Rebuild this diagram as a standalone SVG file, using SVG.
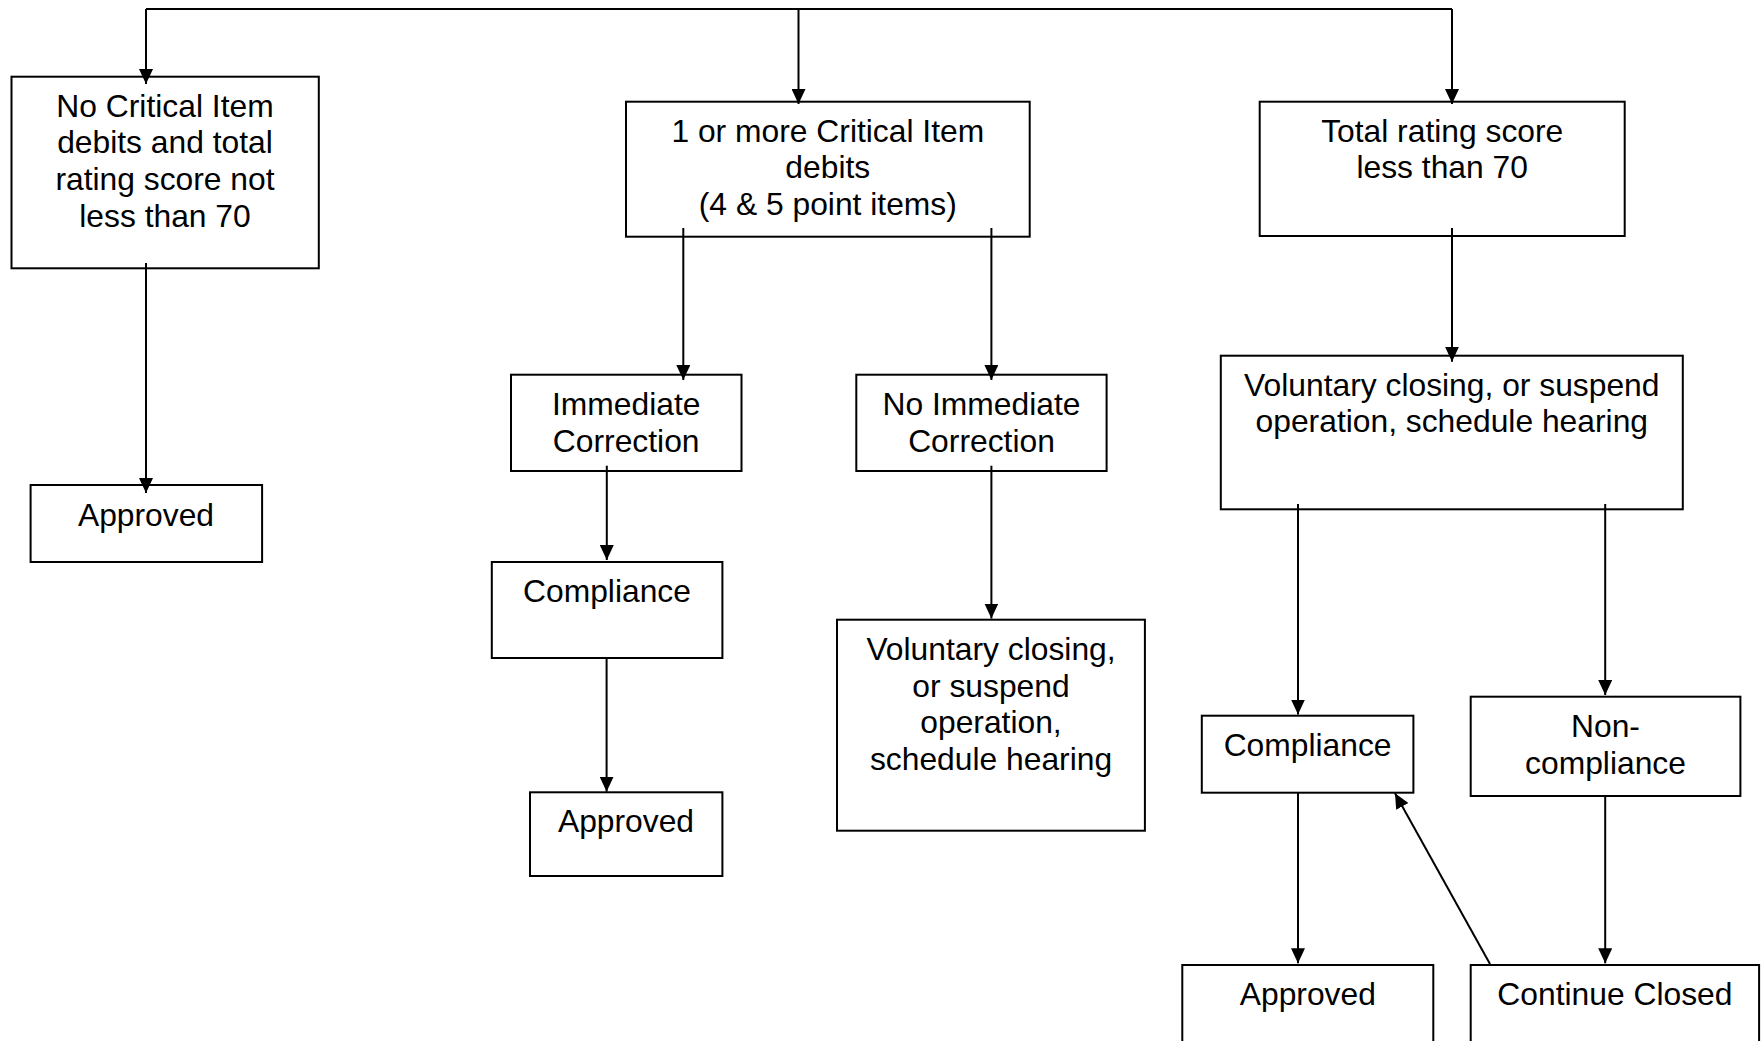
<svg xmlns="http://www.w3.org/2000/svg" width="1761" height="1041" viewBox="0 0 1761 1041">
<style>
.box{fill:#fff;stroke:#000;stroke-width:2}
.t{font-family:"Liberation Sans",Arial,sans-serif;font-size:31.8px;fill:#000;text-anchor:middle}
.c{fill:none;stroke:#000;stroke-width:2}
</style>
<defs>
<marker id="ah" viewBox="0 0 15 14" refX="15" refY="7" markerWidth="15" markerHeight="14" markerUnits="userSpaceOnUse" orient="auto">
<path d="M0,0 L15,7 L0,14 Z" fill="#000"/>
</marker>
</defs>
<rect width="1761" height="1041" fill="#fff"/>
<g id="n1"><rect class="box" x="11.5" y="76.7" width="307.3" height="191.6"/>
<text class="t" x="165" y="116.7">No Critical Item</text><text class="t" x="165" y="153.3">debits and total</text><text class="t" x="165" y="190">rating score not</text><text class="t" x="165" y="226.7">less than 70</text></g>
<g id="n2"><rect class="box" x="626" y="101.7" width="403.7" height="135"/>
<text class="t" x="827.8" y="141.7">1 or more Critical Item</text><text class="t" x="827.8" y="178.3">debits</text><text class="t" x="827.8" y="215">(4 &amp; 5 point items)</text></g>
<g id="n3"><rect class="box" x="1259.7" y="101.7" width="365" height="134.3"/>
<text class="t" x="1442.2" y="141.7">Total rating score</text><text class="t" x="1442.2" y="178.3">less than 70</text></g>
<g id="n4"><rect class="box" x="30.6" y="485" width="231.5" height="77"/>
<text class="t" x="146" y="526">Approved</text></g>
<g id="n5"><rect class="box" x="511" y="374.7" width="230.5" height="96.3"/>
<text class="t" x="626.2" y="415">Immediate</text><text class="t" x="626.2" y="451.7">Correction</text></g>
<g id="n6"><rect class="box" x="856.3" y="374.7" width="250.3" height="96.3"/>
<text class="t" x="981.5" y="415">No Immediate</text><text class="t" x="981.5" y="451.7">Correction</text></g>
<g id="n7"><rect class="box" x="491.8" y="562" width="230.6" height="96"/>
<text class="t" x="607" y="602">Compliance</text></g>
<g id="n8"><rect class="box" x="530" y="792.3" width="192.4" height="83.7"/>
<text class="t" x="626" y="832">Approved</text></g>
<g id="n9"><rect class="box" x="837" y="619.7" width="307.9" height="211"/>
<text class="t" x="991" y="660">Voluntary closing,</text><text class="t" x="991" y="696.7">or suspend</text><text class="t" x="991" y="733.3">operation,</text><text class="t" x="991" y="770">schedule hearing</text></g>
<g id="n10"><rect class="box" x="1220.8" y="355.7" width="462" height="153.6"/>
<text class="t" x="1451.8" y="395.7">Voluntary closing, or suspend</text><text class="t" x="1451.8" y="432.3">operation, schedule hearing</text></g>
<g id="n11"><rect class="box" x="1201.8" y="715.7" width="211.6" height="77"/>
<text class="t" x="1307.6" y="756">Compliance</text></g>
<g id="n12"><rect class="box" x="1470.7" y="696.7" width="269.7" height="99.3"/>
<text class="t" x="1605.5" y="737">Non-</text><text class="t" x="1605.5" y="774">compliance</text></g>
<g id="n13"><rect class="box" x="1182.3" y="965" width="251" height="100"/>
<text class="t" x="1307.8" y="1005">Approved</text></g>
<g id="n14"><rect class="box" x="1470.7" y="965" width="288.4" height="100"/>
<text class="t" x="1614.9" y="1005">Continue Closed</text></g>
<g id="connectors">
<path class="c" d="M146,9 H1452"/>
<path class="c" d="M146,9 V84" marker-end="url(#ah)"/>
<path class="c" d="M798.5,9 V104" marker-end="url(#ah)"/>
<path class="c" d="M1452,9 V104" marker-end="url(#ah)"/>
<path class="c" d="M146,263 V493" marker-end="url(#ah)"/>
<path class="c" d="M683.3,228 V380" marker-end="url(#ah)"/>
<path class="c" d="M991.4,228 V380" marker-end="url(#ah)"/>
<path class="c" d="M606.8,465.7 V560" marker-end="url(#ah)"/>
<path class="c" d="M606.6,658 V791.7" marker-end="url(#ah)"/>
<path class="c" d="M991.4,465.7 V618.5" marker-end="url(#ah)"/>
<path class="c" d="M1452,228 V361.7" marker-end="url(#ah)"/>
<path class="c" d="M1298,504 V714.5" marker-end="url(#ah)"/>
<path class="c" d="M1605.2,504 V695" marker-end="url(#ah)"/>
<path class="c" d="M1298,792.7 V963.3" marker-end="url(#ah)"/>
<path class="c" d="M1605.2,796 V963.3" marker-end="url(#ah)"/>
<path class="c" d="M1490,964 L1395,793.3" marker-end="url(#ah)"/>
</g>
</svg>
